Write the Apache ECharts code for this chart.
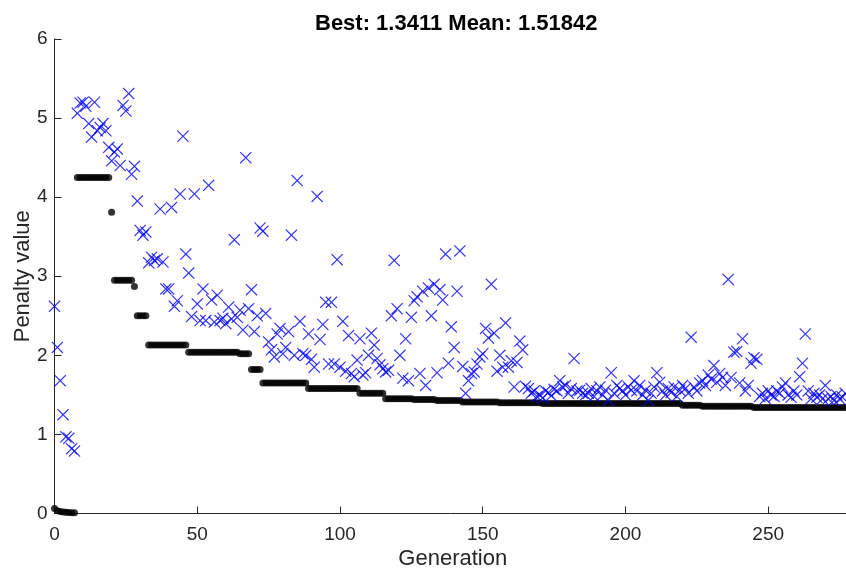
<!DOCTYPE html>
<html>
<head>
<meta charset="utf-8">
<script src="https://cdn.jsdelivr.net/npm/echarts@6/dist/echarts.min.js"></script>
<style>html,body{margin:0;padding:0;background:#fff}#c{width:846px;height:569px}</style>
</head>
<body>
<div id="c"></div>
<script>
var titleText = 'Best: 1.3411 Mean: 1.51842';
var xName = 'Generation';
var yName = 'Penalty value';
var xTicks = [0, 50, 100, 150, 200, 250];
var yTicks = [0, 1, 2, 3, 4, 5, 6];

var bestPenalty = [
  0.063,0.035,0.025,0.02,0.016,0.013,0.011,0.01,
  4.25,4.25,4.25,4.25,4.25,4.25,4.25,4.25,4.25,4.25,4.25,4.25,
  3.81,
  2.95,2.95,2.95,2.95,2.95,2.95,2.95,
  2.87,
  2.5,2.5,2.5,2.5,
  2.13,2.13,2.13,2.13,2.13,2.13,2.13,2.13,2.13,2.13,2.13,2.13,2.13,2.13,
  2.04,2.04,2.04,2.04,2.04,2.04,2.04,2.04,2.04,2.04,2.04,2.04,2.04,2.04,2.04,2.04,2.04,2.04,
  2.02,2.02,2.02,2.02,
  1.82,1.82,1.82,1.82,
  1.65,1.65,1.65,1.65,1.65,1.65,1.65,1.65,1.65,1.65,1.65,1.65,1.65,1.65,1.65,1.65,
  1.58,1.58,1.58,1.58,1.58,1.58,1.58,1.58,1.58,1.58,1.58,1.58,1.58,1.58,1.58,1.58,1.58,1.58,
  1.52,1.52,1.52,1.52,1.52,1.52,1.52,1.52,1.52,
  1.45,1.45,1.45,1.45,1.45,1.45,1.45,1.45,1.45,1.45,
  1.44,1.44,1.44,1.44,1.44,1.44,1.44,1.44,
  1.43,1.43,1.43,1.43,1.43,1.43,1.43,1.43,1.43,
  1.41,1.41,1.41,1.41,1.41,1.41,1.41,1.41,1.41,1.41,1.41,1.41,1.41,
  1.40,1.40,1.40,1.40,1.40,1.40,1.40,1.40,1.40,1.40,1.40,1.40,1.40,1.40,1.40,
  1.39,1.39,1.39,1.39,1.39,1.39,1.39,1.39,1.39,1.39,1.39,1.39,1.39,1.39,1.39,1.39,1.39,1.39,1.39,1.39,
  1.39,1.39,1.39,1.39,1.39,1.39,1.39,1.39,1.39,1.39,1.39,1.39,1.39,1.39,1.39,1.39,1.39,1.39,1.39,1.39,
  1.39,1.39,1.39,1.39,1.39,1.39,1.39,1.39,1.39,
  1.368,1.368,1.368,1.368,1.368,1.368,1.368,
  1.355,1.355,1.355,1.355,1.355,1.355,1.355,1.355,1.355,1.355,1.355,1.355,1.355,1.355,1.355,1.355,1.355,1.355,
  1.3411,1.3411,1.3411,1.3411,1.3411,1.3411,1.3411,1.3411,1.3411,1.3411,1.3411,1.3411,1.3411,1.3411,1.3411,1.3411,1.3411,
  1.3411,1.3411,1.3411,1.3411,1.3411,1.3411,1.3411,1.3411,1.3411,1.3411,1.3411,1.3411,1.3411,1.3411,1.3411,1.3411
];

var meanPenalty = [
  2.62,2.10,1.68,1.25,0.97,0.95,0.82,0.79,5.06,5.19,
  5.20,5.15,4.93,4.76,5.20,4.84,4.88,4.93,4.84,4.63,
  4.46,4.57,4.61,4.40,5.16,5.09,5.31,4.29,4.39,3.95,
  3.58,3.52,3.56,3.17,3.24,3.20,3.22,3.85,3.18,2.84,
  2.84,3.87,2.62,2.69,4.04,4.77,3.28,3.04,2.49,4.04,
  2.65,2.44,2.84,2.44,4.15,2.70,2.42,2.76,2.44,2.47,
  2.40,2.61,2.46,3.46,2.48,2.57,2.32,4.50,2.59,2.83,
  2.30,2.50,3.61,3.57,2.53,2.17,2.07,1.98,2.27,2.34,
  2.02,2.10,2.30,3.52,2.00,4.21,2.43,2.02,2.00,2.27,
  1.95,1.85,4.01,2.20,2.39,2.67,1.89,2.67,1.89,3.21,
  1.85,2.43,1.80,2.25,1.77,1.73,1.94,2.21,1.75,1.78,
  2.00,2.28,2.13,1.96,1.88,1.83,1.79,1.81,2.50,3.20,
  2.59,2.00,1.71,2.21,1.68,2.48,2.69,2.74,1.77,2.81,
  1.62,2.85,2.50,2.90,1.78,2.83,2.70,3.28,1.90,2.36,
  2.10,2.81,3.32,1.86,1.52,1.68,1.77,1.79,1.89,1.98,
  2.02,2.34,2.22,2.90,2.28,1.80,2.00,1.85,2.41,1.85,
  1.93,1.60,1.91,2.18,2.07,1.61,1.58,1.52,1.55,1.48,
  1.50,1.46,1.55,1.53,1.49,1.57,1.55,1.68,1.60,1.62,
  1.52,1.58,1.96,1.55,1.56,1.52,1.50,1.52,1.58,1.48,
  1.55,1.60,1.50,1.56,1.43,1.78,1.52,1.62,1.58,1.55,
  1.50,1.60,1.56,1.68,1.55,1.62,1.50,1.56,1.43,1.52,
  1.60,1.78,1.66,1.55,1.50,1.58,1.53,1.60,1.48,1.56,
  1.62,1.58,1.52,2.23,1.60,1.55,1.65,1.68,1.62,1.75,
  1.70,1.87,1.66,1.77,1.72,1.62,2.96,1.72,2.04,2.05,
  1.65,2.21,1.55,1.62,1.90,1.97,1.95,1.48,1.52,1.45,
  1.55,1.50,1.48,1.55,1.52,1.60,1.65,1.50,1.47,1.55,
  1.50,1.73,1.90,2.27,1.55,1.45,1.52,1.47,1.50,1.45,
  1.62,1.45,1.48,1.43,1.50,1.45,1.47,1.52
];

var bestData = bestPenalty.map(function (v, i) { return [i, v]; });
var meanData = meanPenalty.map(function (v, i) { return [i, v]; });

var FONT = '"Liberation Sans", Arial, Helvetica, sans-serif';
var AX = '#262626';
var crossPath = 'path://M0,7L7,0L50,43L93,0L100,7L57,50L100,93L93,100L50,57L7,100L0,93L43,50Z';

var chart = echarts.init(document.getElementById('c'), null, {renderer: 'canvas'});
chart.setOption({
  animation: false,
  backgroundColor: '#ffffff',
  title: {
    text: titleText,
    left: 310,
    top: 8,
    textStyle: {fontFamily: FONT, fontSize: 22, fontWeight: 'bold', color: '#000'}
  },
  grid: {left: 54.5, top: 39, width: 796.5, height: 474.5, containLabel: false, outerBoundsMode: 'none'},
  xAxis: {
    type: 'value',
    min: 0,
    max: 279,
    interval: 50,
    name: xName,
    nameLocation: 'middle',
    nameGap: 34,
    nameMoveOverlap: false,
    nameTextStyle: {fontFamily: FONT, fontSize: 22, color: AX},
    axisLine: {show: true, lineStyle: {color: AX, width: 1}},
    axisTick: {show: true, inside: true, length: 7, lineStyle: {color: AX}},
    axisLabel: {fontFamily: FONT, fontSize: 19, color: AX, margin: 12, showMaxLabel: false,
      formatter: function (v) { return xTicks.indexOf(v) >= 0 ? String(v) : ''; }},
    splitLine: {show: false}
  },
  yAxis: {
    type: 'value',
    min: 0,
    max: 6,
    interval: 1,
    name: yName,
    nameLocation: 'middle',
    nameGap: 21,
    nameMoveOverlap: false,
    nameTextStyle: {fontFamily: FONT, fontSize: 22, color: AX},
    axisLine: {show: true, lineStyle: {color: AX, width: 1}},
    axisTick: {show: true, inside: true, length: 7, lineStyle: {color: AX}},
    axisLabel: {fontFamily: FONT, fontSize: 19, color: AX, margin: 7,
      formatter: function (v) { return yTicks.indexOf(v) >= 0 ? String(v) : ''; }},
    splitLine: {show: false}
  },
  series: [
    {
      name: 'Best penalty',
      type: 'scatter',
      data: bestData,
      symbol: 'circle',
      symbolSize: 7,
      itemStyle: {color: '#000000'},
      z: 2
    },
    {
      name: 'Mean penalty',
      type: 'scatter',
      data: meanData,
      symbol: crossPath,
      symbolSize: 12,
      itemStyle: {color: '#0000ff'},
      z: 3
    }
  ]
});
</script>
</body>
</html>
